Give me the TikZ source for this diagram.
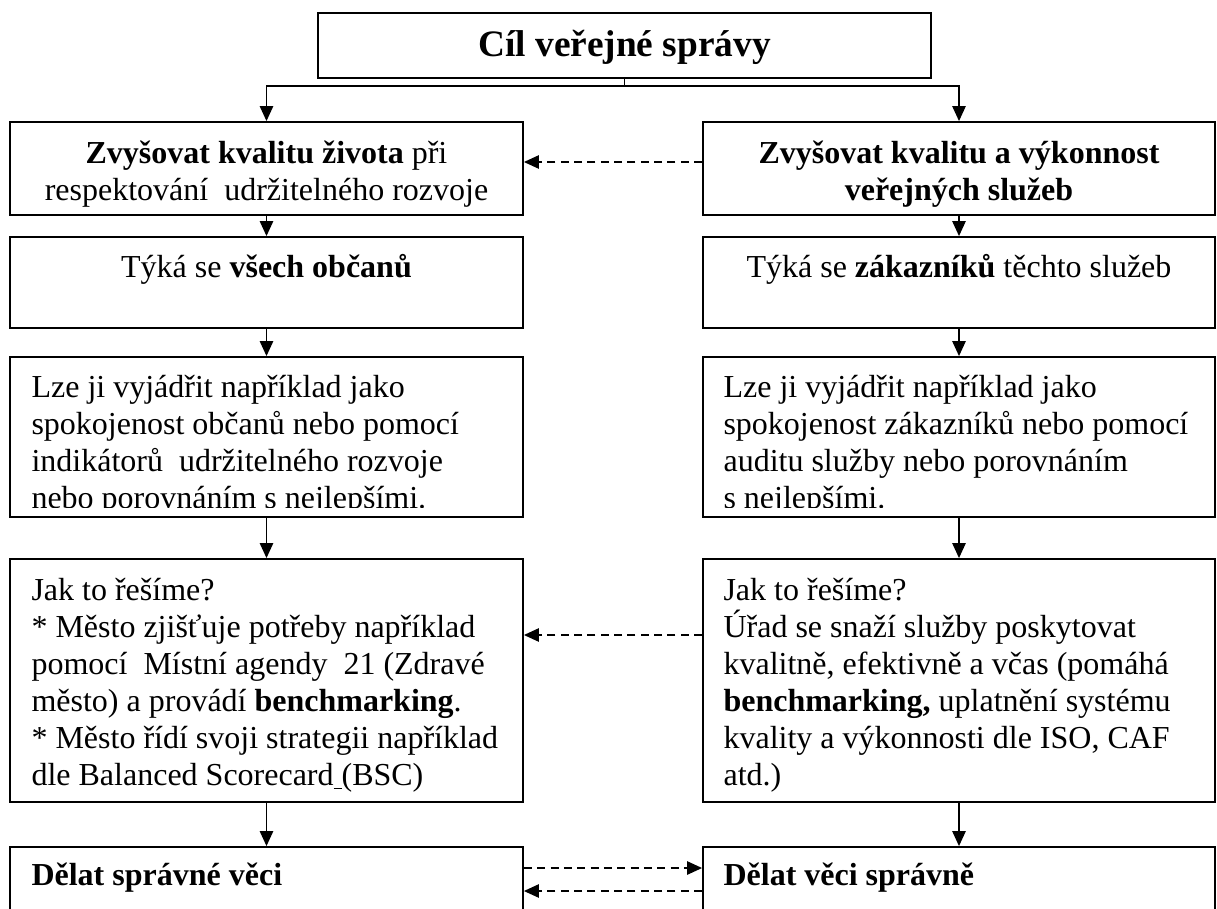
\documentclass[tikz,border=0pt]{standalone}
\usepackage{fontspec}
\setmainfont{Liberation Serif}
\usetikzlibrary{arrows.meta,fit}

\begin{document}
\begin{tikzpicture}[x=0.375pt, y=-0.375pt,
  font=\fontsize{12}{13.875}\selectfont,
  box/.style={draw, line width=0.7pt, inner sep=0pt},
  txt/.style={inner sep=0pt, align=left, anchor=base west},
  ctxt/.style={inner sep=0pt, align=center, anchor=base},
  arr/.style={line width=0.55pt, -{Triangle[length=5.6pt, width=5pt]}},
  dasharr/.style={arr, dash pattern=on 3pt off 2pt}]
  \useasboundingbox (0,0) rectangle (1217,908);
  % boxes
  \node[box, fit={(318,13) (931,78)}] (goal) {};
  \node[box, fit={(10,122) (523,215)}] (l1) {};
  \node[box, fit={(703,122) (1215,215)}] (r1) {};
  \node[box, fit={(10,237) (523,328)}] (l2) {};
  \node[box, fit={(703,237) (1215,328)}] (r2) {};
  \node[box, fit={(10,357) (523,517)}] (l3) {};
  \node[box, fit={(703,357) (1215,517)}] (r3) {};
  \node[box, fit={(10,559) (523,802)}] (l4) {};
  \node[box, fit={(703,559) (1215,802)}] (r4) {};
  \node[box, fit={(10,847) (523,960)}] (l5) {};
  \node[box, fit={(703,847) (1215,960)}] (r5) {};
  % texts (base = last line)
  \node[font=\fontsize{14}{16}\selectfont\bfseries, anchor=base] (goalt) at (624.5,56) {Cíl veřejné správy};
  \node[ctxt] (l1t) at (266.5,200) {\textbf{Zvyšovat kvalitu života} při\\respektování\ \ udržitelného rozvoje};
  \node[ctxt, font=\fontsize{12}{13.875}\selectfont\bfseries] (r1t) at (959,200) {Zvyšovat kvalitu a výkonnost\\veřejných služeb};
  \node[ctxt] (l2t) at (266.5,277) {Týká se \textbf{všech občanů}};
  \node[ctxt] (r2t) at (959,277) {Týká se \textbf{zákazníků} těchto služeb};
  \begin{scope}
    \clip (10,357) rectangle (1217,507);
    \node[txt] (l3t) at (31,508) {Lze ji vyjádřit například jako\\spokojenost občanů nebo pomocí\\indikátorů\ \ udržitelného rozvoje\\nebo porovnáním s nejlepšími.};
    \node[txt] (r3t) at (723,508) {Lze ji vyjádřit například jako\\spokojenost zákazníků nebo pomocí\\auditu služby nebo porovnáním\\s nejlepšími.};
  \end{scope}
  \node[txt] (l4t) at (31,785) {Jak to řešíme?\\* Město zjišťuje potřeby například\\pomocí\ \ Místní agendy\ \ 21 (Zdravé\\město) a provádí \textbf{benchmarking}.\\* Město řídí svoji strategii například\\dle Balanced Scorecard\underline{\ }(BSC)};
  \node[txt] (r4t) at (723,785) {Jak to řešíme?\\Úřad se snaží služby poskytovat\\kvalitně, efektivně a včas (pomáhá\\\textbf{benchmarking,} uplatnění systému\\kvality a výkonnosti dle ISO, CAF\\atd.)};
  \node[txt, font=\fontsize{12}{13.875}\selectfont\bfseries] (l5t) at (31,885) {Dělat správné věci};
  \node[txt, font=\fontsize{12}{13.875}\selectfont\bfseries] (r5t) at (723,885) {Dělat věci správně};
  % connectors
  \coordinate (split) at (624.5,86);
  \draw[line width=0.55pt] (goal.south) -- (split);
  \draw[arr] (split) -| (l1.north);
  \draw[arr] (split) -| (r1.north);
  \foreach \a/\b in {l1/l2,l2/l3,l3/l4,l4/l5,r1/r2,r2/r3,r3/r4,r4/r5}
    \draw[arr] (\a) -- (\b);
  \draw[dasharr] (r1.west |- 0,162) -- (l1.east |- 0,162);
  \draw[dasharr] (r4.west |- 0,635) -- (l4.east |- 0,635);
  \draw[dasharr] (l5.east |- 0,868) -- (r5.west |- 0,868);
  \draw[dasharr] (r5.west |- 0,891) -- (l5.east |- 0,891);
\end{tikzpicture}
\end{document}
